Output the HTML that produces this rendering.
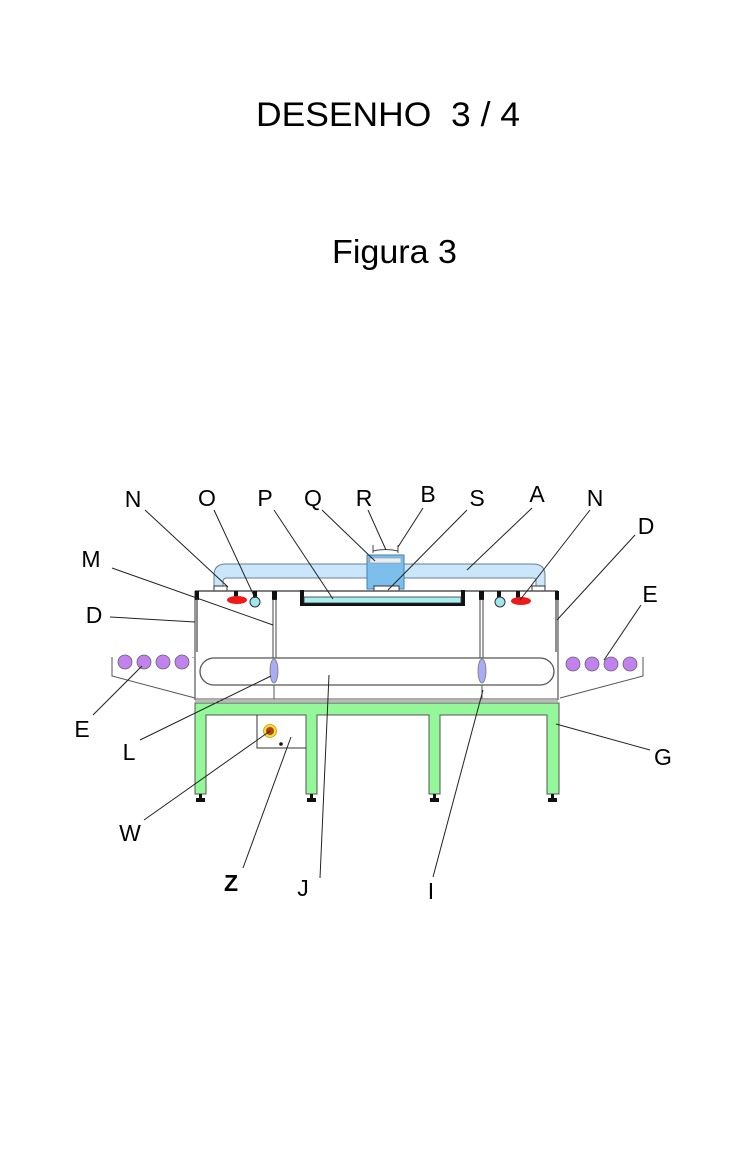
<!DOCTYPE html>
<html><head><meta charset="utf-8"><style>
html,body{margin:0;padding:0;background:#fff;}
svg{display:block;}
text{font-family:"Liberation Sans",Arial,sans-serif;fill:#000;}
</style></head><body>
<svg width="748" height="1163" viewBox="0 0 748 1163" xmlns="http://www.w3.org/2000/svg">
<text x="256" y="126" font-size="34" textLength="264" lengthAdjust="spacingAndGlyphs" xml:space="preserve">DESENHO  3 / 4</text>
<text x="332" y="263" font-size="33" textLength="125" lengthAdjust="spacingAndGlyphs">Figura 3</text>

<!-- pipe A -->
<path d="M214,590 L214,575 Q214,564 226,564 L533,564 Q545,564 545,575 L545,590 L536,590 L536,580 Q536,578 532,578 L227,578 Q223,578 223,582 L223,590 Z" fill="#c9e6fb" stroke="#6a7f8f" stroke-width="1"/>
<rect x="214" y="586" width="13" height="5" fill="#fff" stroke="#333" stroke-width="1"/>
<rect x="532" y="586" width="13" height="5" fill="#fff" stroke="#333" stroke-width="1"/>

<!-- box Q / B / R -->
<path d="M373,545 L373,553 M398,545 L398,553 M373,551 Q386,548 398,551" fill="none" stroke="#444" stroke-width="1"/>
<rect x="367" y="555" width="37" height="34" fill="#7cbfec" stroke="#4a7fa8" stroke-width="1"/>
<rect x="370" y="558" width="31" height="5" fill="#e8eef2" stroke="#888" stroke-width="0.5"/>
<rect x="374" y="586" width="25" height="5" fill="#fff" stroke="#333" stroke-width="1"/>

<!-- main box -->
<line x1="195" y1="591" x2="558" y2="591" stroke="#555" stroke-width="1.5"/>
<line x1="195" y1="591" x2="195" y2="700" stroke="#555" stroke-width="1.2"/>
<line x1="558" y1="591" x2="558" y2="700" stroke="#555" stroke-width="1.2"/>
<line x1="195" y1="699" x2="558" y2="699" stroke="#777" stroke-width="1.2"/>
<line x1="195" y1="701" x2="558" y2="701" stroke="#777" stroke-width="1"/>

<!-- posts -->
<rect x="195" y="591" width="4" height="9" fill="#111"/>
<rect x="555" y="591" width="4" height="9" fill="#111"/>
<rect x="272" y="591" width="5" height="9" fill="#111"/>
<rect x="479" y="591" width="5" height="9" fill="#111"/>
<rect x="234" y="591" width="4" height="8" fill="#111"/>
<rect x="253" y="591" width="4" height="8" fill="#111"/>
<rect x="497" y="591" width="4" height="8" fill="#111"/>
<rect x="516" y="591" width="4" height="8" fill="#111"/>
<!-- walls D -->
<line x1="197" y1="599" x2="197" y2="652" stroke="#444" stroke-width="1.2"/>
<line x1="556" y1="599" x2="556" y2="652" stroke="#444" stroke-width="1.2"/>
<line x1="273" y1="599" x2="273" y2="658" stroke="#444" stroke-width="1"/>
<line x1="276" y1="599" x2="276" y2="658" stroke="#444" stroke-width="1"/>
<line x1="480" y1="599" x2="480" y2="658" stroke="#444" stroke-width="1"/>
<line x1="483" y1="599" x2="483" y2="658" stroke="#444" stroke-width="1"/>

<!-- red ellipses & O -->
<ellipse cx="237" cy="600" rx="10" ry="4" fill="#f01818"/>
<ellipse cx="521" cy="601" rx="10" ry="4" fill="#f01818"/>
<circle cx="255" cy="602" r="5" fill="#9fe6ef" stroke="#333" stroke-width="1"/>
<circle cx="500" cy="602" r="5" fill="#9fe6ef" stroke="#333" stroke-width="1"/>

<!-- P -->
<rect x="300" y="590" width="4" height="16" fill="#111"/>
<rect x="461" y="590" width="4" height="16" fill="#111"/>
<rect x="300" y="603" width="165" height="3" fill="#111"/>
<rect x="304" y="597" width="157" height="6" fill="#a8eef0" stroke="#333" stroke-width="0.8"/>

<!-- conveyor J -->
<rect x="200" y="658" width="354" height="27" rx="14" fill="none" stroke="#555" stroke-width="1.3"/>
<line x1="274" y1="685" x2="274" y2="699" stroke="#555"/>
<line x1="482" y1="685" x2="482" y2="699" stroke="#555"/>
<ellipse cx="274" cy="671" rx="4" ry="12" fill="#a8acf2" stroke="#777" stroke-width="0.8"/>
<ellipse cx="482" cy="671" rx="4" ry="12" fill="#a8acf2" stroke="#777" stroke-width="0.8"/>

<!-- E -->
<g fill="#c182ee" stroke="#666" stroke-width="0.8">
<circle cx="125" cy="662" r="7"/><circle cx="144" cy="662" r="7"/><circle cx="163" cy="662" r="7"/><circle cx="182" cy="662" r="7"/>
<circle cx="573" cy="664" r="7"/><circle cx="592" cy="664" r="7"/><circle cx="611" cy="664" r="7"/><circle cx="630" cy="664" r="7"/>
</g>
<path d="M112,657 L112,676 L195,698 M193,657 L193,658" fill="none" stroke="#555" stroke-width="1"/>
<path d="M643,657 L643,676 L560,698" fill="none" stroke="#555" stroke-width="1"/>

<!-- table G -->
<path d="M195,703 L559,703 L559,794 L547,794 L547,715 L440,715 L440,794 L429,794 L429,715 L317,715 L317,794 L306,794 L306,715 L206,715 L206,794 L195,794 Z" fill="#94f89a" stroke="#555" stroke-width="1"/>
<g fill="#111">
<rect x="199" y="794" width="3" height="4"/><rect x="196" y="798" width="9" height="4"/>
<rect x="310" y="794" width="3" height="4"/><rect x="307" y="798" width="9" height="4"/>
<rect x="433" y="794" width="3" height="4"/><rect x="430" y="798" width="9" height="4"/>
<rect x="551" y="794" width="3" height="4"/><rect x="548" y="798" width="9" height="4"/>
</g>
<!-- Z box -->
<path d="M257,715 L257,748 L306,748" fill="none" stroke="#333" stroke-width="1"/>
<circle cx="270" cy="731" r="6.5" fill="#f2e02a" stroke="#b8a010" stroke-width="0.8"/>
<circle cx="270" cy="731" r="4" fill="#b8401a"/>
<circle cx="281" cy="744" r="1.8" fill="#111"/>

<!-- leader lines -->
<g stroke="#222" stroke-width="1" fill="none">
<line x1="145" y1="510" x2="228" y2="587"/>
<line x1="214" y1="510" x2="255" y2="598"/>
<line x1="274" y1="510" x2="333" y2="599"/>
<line x1="322" y1="510" x2="375" y2="561"/>
<line x1="368" y1="510" x2="386" y2="550"/>
<line x1="423" y1="508" x2="398" y2="547"/>
<line x1="467" y1="510" x2="388" y2="590"/>
<line x1="532" y1="508" x2="467" y2="570"/>
<line x1="590" y1="510" x2="520" y2="600"/>
<line x1="635" y1="535" x2="557" y2="620"/>
<line x1="112" y1="568" x2="273" y2="625"/>
<line x1="110" y1="617" x2="195" y2="622"/>
<line x1="641" y1="605" x2="604" y2="660"/>
<line x1="93" y1="715" x2="142" y2="666"/>
<line x1="140" y1="740" x2="271" y2="676"/>
<line x1="650" y1="750" x2="556" y2="724"/>
<line x1="144" y1="820" x2="270" y2="731"/>
<line x1="243" y1="868" x2="291" y2="737"/>
<line x1="320" y1="878" x2="329" y2="675"/>
<line x1="433" y1="877" x2="483" y2="690"/>
</g>

<!-- labels -->
<g font-size="23" text-anchor="middle">
<text x="133" y="507">N</text>
<text x="207" y="506">O</text>
<text x="265" y="506">P</text>
<text x="313" y="506">Q</text>
<text x="364" y="506">R</text>
<text x="428" y="502">B</text>
<text x="477" y="506">S</text>
<text x="537" y="502">A</text>
<text x="595" y="506">N</text>
<text x="646" y="534">D</text>
<text x="91" y="567">M</text>
<text x="94" y="623">D</text>
<text x="650" y="602">E</text>
<text x="82" y="737">E</text>
<text x="129" y="760">L</text>
<text x="663" y="765">G</text>
<text x="130" y="841">W</text>
<text x="231" y="891" font-weight="bold">Z</text>
<text x="303" y="896">J</text>
<text x="431" y="899">I</text>
</g>
</svg>
</body></html>
